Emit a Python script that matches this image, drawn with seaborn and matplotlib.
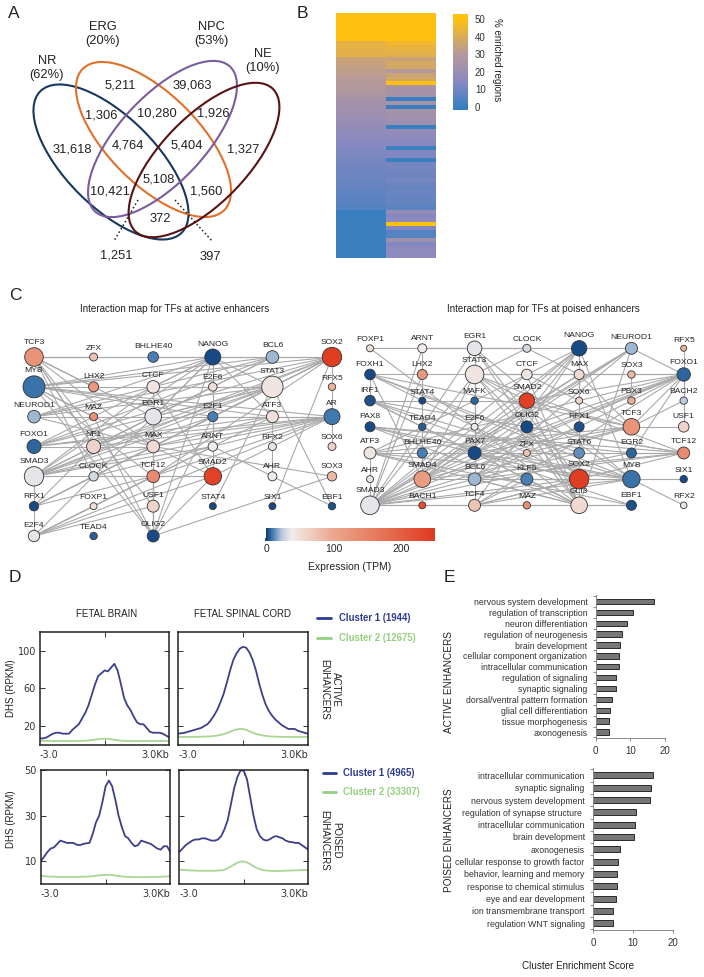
import matplotlib
matplotlib.use("Agg")
import matplotlib.pyplot as plt
import numpy as np
import pandas as pd
import seaborn as sns
from matplotlib.cm import ScalarMappable
from matplotlib.colors import LinearSegmentedColormap, Normalize
from matplotlib.patches import Ellipse

# venn counts
venn_counts = ["5,211", "39,063", "1,306", "10,280", "1,926", "31,618", "4,764", "5,404",
               "1,327", "10,421", "5,108", "1,560", "372", "1,251", "397"]
venn_sets = ["NR\n(62%)", "ERG\n(20%)", "NPC\n(53%)", "NE\n(10%)"]

# % enriched regions, one value per row
enriched_left = [50, 50, 50, 50, 50, 50, 50, 43, 43, 42, 42, 36, 35, 34, 33, 32, 31, 30, 29, 28, 27,
                 25, 24, 23, 22, 21, 20, 19, 18, 17, 16, 15, 14, 13, 12.5, 12, 11, 10.5, 10, 9.5, 9,
                 8.5, 8, 7.5, 7, 6.5, 6, 5.5, 5, 0, 0, 0, 0, 0, 0, 0, 0, 0, 0, 0, 0]
enriched_right = [50, 50, 50, 50, 50, 50, 50, 46, 44, 43, 42, 35, 39, 38, 30, 36, 38, 52, 26, 24, 25,
                  0, 24, 0, 24, 23, 22, 21, 0, 18, 17, 15, 14, 0, 13, 13, 0, 11, 11, 10, 10,
                  11, 9, 8, 9, 8, 8, 7, 6, 18, 14, 15, 52, 13, 5, 5, 22, 13, 15, 16, 16]

# TF networks, listed column by column
active_names = [["TCF3", "MYB", "NEUROD1", "FOXO1", "SMAD3", "RFX1", "E2F4"],
                ["ZFX", "LHX2", "MAZ", "NF1", "CLOCK", "FOXP1", "TEAD4"],
                ["BHLHE40", "CTCF", "EGR1", "MAX", "TCF12", "USF1", "OLIG2"],
                ["NANOG", "E2F6", "E2F1", "ARNT", "SMAD2", "STAT4"],
                ["BCL6", "STAT3", "ATF3", "RFX2", "AHR", "SIX1"],
                ["SOX2", "RFX5", "AR", "SOX6", "SOX3", "EBF1"]]
active_tpm = [[125, 8, 20, 6, 35, 2, 35],
              [75, 120, 130, 60, 30, 50, 5],
              [10, 45, 35, 55, 140, 60, 2],
              [2, 50, 10, 40, 240, 2],
              [20, 45, 50, 35, 40, 2],
              [245, 90, 9, 60, 85, 3]]
active_weight = [[9.3, 11, 6.3, 7, 9.7, 4.7, 5.7],
                 [4, 5, 4, 7, 4.7, 3.5, 3.7],
                 [5.3, 6.3, 8.3, 6.3, 6.3, 6, 6],
                 [8, 4.3, 5, 4.7, 8.7, 3.5],
                 [6.3, 10.7, 6, 4, 4.5, 3.5],
                 [9.7, 3.7, 8, 4, 4.7, 3.7]]
active_edges = """TCF3-SOX2 TCF3-NANOG TCF3-CLOCK TCF3-MAX TCF3-EGR1 TCF3-USF1 TCF3-OLIG2 TCF3-NF1 TCF3-LHX2
MYB-STAT3 MYB-SOX2 MYB-NANOG MYB-BCL6 MYB-AR MYB-ATF3 MYB-E2F1 MYB-SMAD2 MYB-OLIG2 MYB-MAZ MYB-TCF12
NEUROD1-NANOG NEUROD1-STAT3 NEUROD1-BCL6 NEUROD1-SOX2 NEUROD1-AR NEUROD1-MAX
FOXO1-SOX2 FOXO1-STAT3 FOXO1-AR FOXO1-MAX FOXO1-BCL6 FOXO1-NANOG FOXO1-ATF3
SMAD3-SMAD2 SMAD3-SOX2 SMAD3-STAT3 SMAD3-AR SMAD3-ATF3 SMAD3-E2F1 SMAD3-BCL6 SMAD3-NANOG SMAD3-CTCF SMAD3-ARNT SMAD3-E2F6
RFX1-NF1 RFX1-MAX RFX1-STAT3 RFX1-SOX2 RFX1-E2F4 RFX1-SMAD3 RFX1-TCF12
E2F4-SMAD2 E2F4-ATF3 E2F4-AR E2F4-USF1 E2F4-TCF12 E2F4-NANOG E2F4-ARNT
OLIG2-SOX3 OLIG2-USF1 OLIG2-MAX OLIG2-EGR1 OLIG2-CTCF OLIG2-NANOG OLIG2-MAZ OLIG2-SMAD2 OLIG2-E2F1
NANOG-SMAD2 NANOG-E2F6 NANOG-CTCF NANOG-STAT3 NANOG-EGR1 NANOG-SOX2 NANOG-ATF3
STAT3-EBF1 SOX2-SIX1 STAT3-STAT4 SOX2-RFX5 RFX5-AR AR-SOX6 ATF3-RFX2 RFX2-AHR ARNT-EBF1 MAX-SOX3
CTCF-SMAD2 CTCF-STAT3 CTCF-USF1 NF1-STAT3 NF1-SOX2 NF1-AR NF1-BCL6 CLOCK-SMAD2 CLOCK-SOX2 CLOCK-AR
EGR1-STAT3 EGR1-AR MAX-AR MAX-SOX2 TCF12-AR TCF12-SOX2 E2F6-E2F1 E2F1-ARNT ARNT-SMAD2 SMAD2-AR ZFX-TCF3""".split()

poised_names = [["FOXP1", "FOXH1", "IRF1", "PAX8", "ATF3", "AHR", "SMAD3"],
                ["ARNT", "LHX2", "STAT4", "TEAD4", "BHLHE40", "SMAD4", "BACH1"],
                ["EGR1", "STAT3", "MAFK", "E2F6", "PAX7", "BCL6", "TCF4"],
                ["CLOCK", "CTCF", "SMAD2", "OLIG2", "ZFX", "KLF5", "MAZ"],
                ["NANOG", "MAX", "SOX6", "RFX1", "STAT6", "SOX2", "GLI3"],
                ["NEUROD1", "SOX3", "PBX3", "TCF3", "EGR2", "MYB", "EBF1"],
                ["RFX5", "FOXO1", "BACH2", "USF1", "TCF12", "SIX1", "RFX2"]]
poised_tpm = [[50, 2, 3, 2, 45, 35, 35],
              [40, 120, 2, 5, 10, 115, 220],
              [35, 45, 6, 40, 2, 20, 75],
              [30, 45, 240, 2, 75, 10, 130],
              [2, 55, 60, 3, 13, 245, 55],
              [20, 85, 95, 125, 6, 8, 3],
              [90, 6, 25, 60, 140, 2, 35]]
poised_weight = [[3.5, 5.3, 5.3, 5, 6, 3.5, 9.3],
                 [4.5, 5, 3.5, 3.7, 5, 8.3, 3.5],
                 [7.3, 9.3, 3.7, 3.5, 6.5, 6.3, 6],
                 [4, 5.3, 7.7, 6, 3.5, 6, 3.7],
                 [7.7, 5, 3.5, 5, 5.3, 9.7, 8.3],
                 [6, 3.7, 3.7, 8.3, 5, 8.7, 5],
                 [3, 6.7, 3.7, 5.3, 6, 3.7, 3.3]]
poised_edges = """SMAD3-SMAD2 SMAD3-NANOG SMAD3-TCF3 SMAD3-MYB SMAD3-SOX2 SMAD3-FOXO1 SMAD3-EGR2 SMAD3-MAZ SMAD3-EBF1 SMAD3-OLIG2
SMAD3-STAT3 SMAD3-EGR1 SMAD3-RFX1 SMAD3-STAT6 SMAD3-NEUROD1 SMAD3-ARNT SMAD3-AHR SMAD3-MAX SMAD3-LHX2 SMAD3-CTCF
FOXP1-NANOG FOXP1-GLI3 FOXH1-FOXO1 FOXH1-SOX2 FOXH1-MYB FOXH1-TCF3 FOXH1-STAT6 FOXH1-IRF1 FOXH1-SMAD4
IRF1-SOX2 IRF1-GLI3 IRF1-MYB IRF1-TCF12 IRF1-SMAD2 IRF1-PAX7 PAX8-MYB PAX8-TCF12 PAX8-GLI3 PAX8-SOX2 PAX8-EGR2
ATF3-TCF12 ATF3-MYB ATF3-FOXO1 ATF3-NANOG ATF3-AHR ATF3-TCF3 ATF3-GLI3 ATF3-EBF1
SMAD4-FOXO1 SMAD4-NANOG SMAD4-TCF3 SMAD4-SOX2 SMAD4-NEUROD1 SMAD4-MAX SMAD4-ARNT SMAD4-STAT3 SMAD4-TCF12
PAX7-FOXO1 PAX7-TCF12 PAX7-MYB PAX7-SOX2 PAX7-GLI3 PAX7-NANOG PAX7-TCF3 PAX7-NEUROD1 PAX7-STAT3 PAX7-EBF1
STAT3-TCF12 STAT3-SOX2 STAT3-MYB STAT3-FOXO1 STAT3-GLI3 STAT3-CLOCK STAT3-EGR1 STAT3-CTCF STAT3-SMAD2 STAT3-TCF4
EGR1-MYB EGR1-GLI3 EGR1-NEUROD1 EGR1-FOXP1 EGR1-ARNT EGR1-CLOCK EGR1-SOX2 EGR1-PAX7
NANOG-NEUROD1 NANOG-GLI3 NANOG-SOX2 NANOG-TCF4 NANOG-BCL6 NANOG-MYB NEUROD1-GLI3 NEUROD1-FOXO1 NEUROD1-BCL6
RFX5-USF1 MYB-RFX2 MYB-SIX1 BCL6-TCF12 BCL6-FOXO1 BCL6-MYB BCL6-GLI3 TCF4-FOXO1 TCF4-SOX2 TCF4-MYB TCF4-TCF12 TCF4-MAZ
GLI3-EBF1 MAZ-GLI3 KLF5-MYB KLF5-GLI3 KLF5-TCF4 SMAD2-TCF3 SMAD2-GLI3 SMAD2-FOXO1 OLIG2-TCF12 OLIG2-GLI3 OLIG2-FOXO1
CTCF-MAX CTCF-TCF3 CTCF-GLI3 CLOCK-MAX MAX-TCF3 MAX-GLI3 TCF3-FOXO1 TCF3-USF1 TCF3-BACH2 USF1-FOXO1 EGR2-FOXO1 SOX3-PBX3""".split()

# DHS profiles, 41 positions from -3 to 3 kb
kb = np.linspace(-3, 3, 41)
brain_active_c1 = [7, 7, 8, 10, 12, 13, 13, 12, 12, 12, 16, 19, 22, 28, 34, 42, 53, 64, 73, 76, 79, 78, 82, 86, 79,
                   65, 50, 42, 37, 30, 24, 22, 22, 18, 14, 13, 13, 13, 12, 10, 8]
brain_active_c2 = [4.5, 4.4, 4.3, 4.3, 4.2, 4.2, 4.2, 4.2, 4.2, 4.3, 4.3, 4.3, 4.3, 4.4, 4.5, 4.7, 5.2, 5.6, 6, 6.4,
                   6.6, 6.5, 6.1, 5.6, 5, 4.6, 4.4, 4.3, 4.2, 4.2, 4.2, 4.2, 4.2, 4.2, 4.2, 4.2, 4.2, 4.2, 4.3, 4.3, 4.3]
cord_active_c1 = [12, 12.5, 13, 14, 15, 16, 17, 18, 20, 22, 26, 31, 37, 45, 54, 66, 79, 90, 97, 102, 104, 103, 98, 90,
                  79, 65, 53, 43, 36, 31, 27, 24, 21, 19, 17, 17, 17, 15, 14, 13, 12]
cord_active_c2 = [8.5, 8.5, 8.5, 8.6, 8.6, 8.7, 8.7, 8.8, 8.9, 9, 9.2, 9.5, 10, 10.6, 11.5, 12.5, 14, 15.5, 16.5, 17,
                  17, 16, 14.5, 13, 11.8, 11, 10.2, 9.6, 9.2, 9, 8.8, 8.7, 8.6, 8.5, 8.5, 8.5, 8.5, 8.5, 8.5, 8.5, 8.5]
brain_poised_c1 = [10, 12, 14, 15.5, 16, 17.5, 19, 18.5, 18, 18, 18, 17.2, 17, 17.5, 17.8, 18, 22, 27, 30, 36, 43, 45.5,
                   43, 37, 30, 25, 21, 20, 18, 16.5, 17, 19, 18.5, 18, 17.5, 16.5, 15.5, 15, 16.5, 16.5, 14]
brain_poised_c2 = [3.6, 3.3, 3.2, 3.1, 3.1, 3, 3, 3, 3, 3, 3, 3, 3, 3.1, 3.1, 3.2, 3.3, 3.5, 3.7, 3.8, 3.9, 3.9, 3.8, 3.6,
                   3.4, 3.2, 3.1, 3, 3, 2.9, 2.9, 2.9, 2.9, 2.9, 3, 3, 3, 3.1, 3.1, 3.2, 3.3]
cord_poised_c1 = [14, 15.5, 17, 18, 19, 19.5, 19.5, 20, 20, 19.5, 19, 19, 19.5, 21, 24, 28, 35, 42, 47, 50, 49.8, 46, 38,
                  30, 24, 21, 19.5, 19, 19.5, 20.5, 21, 20.5, 20, 19, 18.5, 18.3, 18, 18, 17, 16, 15]
cord_poised_c2 = [6.2, 6.1, 6, 5.9, 5.8, 5.8, 5.7, 5.7, 5.7, 5.7, 5.7, 5.7, 5.8, 5.9, 6.2, 6.8, 7.6, 8.4, 9.2, 9.7, 9.8,
                  9.4, 8.6, 7.7, 7, 6.4, 6, 5.8, 5.7, 5.6, 5.6, 5.6, 5.7, 5.7, 5.8, 5.8, 5.9, 5.9, 6, 6, 6.1]

# GO enrichment
active_terms = ["nervous system development", "regulation of transcription", "neuron differentiation",
                "regulation of neurogenesis", "brain development", "cellular component organization",
                "intracellular communication", "regulation of signaling", "synaptic signaling",
                "dorsal/ventral pattern formation", "glial cell differentiation", "tissue morphogenesis",
                "axonogenesis"]
active_scores = [16.7, 10.8, 8.9, 7.6, 7.1, 6.6, 6.6, 6.0, 6.0, 4.6, 4.1, 3.9, 3.8]
poised_terms = ["intracellular communication", "synaptic signaling", "nervous system development",
                "regulation of synapse structure ", "intracellular communication", "brain development",
                "axonogenesis", "cellular response to growth factor", "behavior, learning and memory",
                "response to chemical stimulus", "eye and ear development", "ion transmembrane transport",
                "regulation WNT signaling"]
poised_scores = [15.0, 14.6, 14.4, 10.9, 10.6, 10.2, 6.7, 6.2, 5.9, 5.9, 5.7, 5.0, 5.0]

W, H = 704, 977
sns.set_theme(style="white")
plt.rcParams["font.family"] = ["Liberation Sans", "DejaVu Sans"]
plt.rcParams["text.color"] = "#222222"
fig = plt.figure(figsize=(W / 100, H / 100), dpi=100)


def px_axes(left, top, right, bottom):
    return fig.add_axes([left / W, 1 - bottom / H, (right - left) / W, (bottom - top) / H])


# overlay in pixel coordinates for the venn and loose labels
page = px_axes(0, 0, W, H)
page.set_xlim(0, W)
page.set_ylim(H, 0)
page.axis("off")

for letter, x, y in [("A", 14, 14), ("B", 302, 14), ("C", 15, 295), ("D", 15, 577), ("E", 449, 577)]:
    page.text(x, y, letter, fontsize=12.5, ha="center", va="center")

# A: venn
venn_shapes = [((111, 162), 200, 90, 45, "#17375e"), ((153.5, 139.5), 200, 90, 45, "#e0702a"),
               ((162.5, 139), 198, 86, -47, "#7a5c9e"), ((204, 160), 198, 86, -46, "#5a1214")]
for center, w, h, angle, color in venn_shapes:
    page.add_patch(Ellipse(center, w, h, angle=angle, fill=False, edgecolor=color, lw=1.5))
venn_xy = [(120, 86), (192, 86), (101, 116), (157, 113), (213, 113), (72, 150), (128, 145), (187, 145),
           (243, 150), (110, 191), (159, 179), (206, 191), (160, 219), (116, 256), (210, 257)]
for label, (x, y) in zip(venn_counts, venn_xy):
    page.text(x, y, label, fontsize=9.3, ha="center", va="center")
for label, (x, y) in zip(venn_sets, [(47, 68), (103, 34), (211, 34), (263, 61)]):
    page.text(x, y, label, fontsize=9.3, ha="center", va="center", linespacing=1.3)
page.plot([138, 114], [200, 241], ls=":", color="#222222", lw=1.1)
page.plot([175, 212], [200, 241], ls=":", color="#222222", lw=1.1)

# B: heatmap with its colour bar
enrich_cmap = LinearSegmentedColormap.from_list(
    "enrich", [(0, "#2f7fc1"), (0.3, "#8a88c0"), (0.6, "#b89a98"), (0.95, "#ffc010"), (1, "#ffc010")])
heat_ax = px_axes(336, 13, 436, 258)
bar_ax = px_axes(453, 14, 468, 110)
enrich_df = pd.DataFrame({"left": enriched_left, "right": enriched_right})
sns.heatmap(enrich_df, cmap=enrich_cmap, vmin=-2, vmax=53, xticklabels=False, yticklabels=False,
            ax=heat_ax, cbar_ax=bar_ax)
bar_ax.set_yticks([0, 10, 20, 30, 40, 50])
bar_ax.tick_params(axis="y", length=3, direction="in", color="white", labelsize=7, pad=5, labelcolor="#333333")
page.text(497, 60, "% enriched regions", rotation=-90, fontsize=7, ha="center", va="center")

# C: networks
tpm_cmap = LinearSegmentedColormap.from_list(
    "tpm", [(0, "#0b3d78"), (0.035, "#3f78b0"), (0.09, "#b8c8dc"), (0.15, "#f0ecec"), (0.4, "#eba78c"), (1, "#e03a1e")])
tpm_norm = Normalize(0, 250)


def draw_network(rect, names, tpm, weight, edges):
    ax = px_axes(*rect)
    rows = []
    for c, column in enumerate(names):
        for r, name in enumerate(column):
            rows.append({"name": name, "col": c, "row": r, "tpm": tpm[c][r], "weight": weight[c][r]})
    nodes = pd.DataFrame(rows)
    where = nodes.set_index("name")
    for edge in edges:
        a, b = edge.split("-")
        ax.plot([where.col[a], where.col[b]], [where.row[a], where.row[b]], color="#a9a9a9", lw=0.8,
                zorder=1, clip_on=False)
    areas = (2 * nodes.weight * 0.72) ** 2
    sns.scatterplot(data=nodes, x="col", y="row", hue="tpm", hue_norm=tpm_norm, palette=tpm_cmap, s=areas,
                    edgecolor="#333333", linewidth=0.6, legend=False, clip_on=False, zorder=3, ax=ax)
    for row in nodes.itertuples():
        ax.annotate(row.name, (row.col, row.row), xytext=(0, (row.weight + 5) * 0.72), textcoords="offset points",
                    ha="center", va="center", fontsize=6.1, color="#222222", zorder=4)
    ax.set_xlim(0, len(names) - 1)
    ax.set_ylim(6, 0)
    ax.axis("off")


draw_network((34, 357, 332, 536), active_names, active_tpm, active_weight, active_edges)
draw_network((370, 348.3, 683.7, 505.3), poised_names, poised_tpm, poised_weight, poised_edges)
page.text(175, 309, "Interaction map for TFs at active enhancers", fontsize=7.1, ha="center", va="center")
page.text(543, 309, "Interaction map for TFs at poised enhancers", fontsize=7.1, ha="center", va="center")

tpm_ax = px_axes(266, 527.5, 435, 540.5)
tpm_bar = fig.colorbar(ScalarMappable(tpm_norm, tpm_cmap), cax=tpm_ax, orientation="horizontal", ticks=[0, 100, 200])
tpm_bar.outline.set_visible(False)
tpm_ax.tick_params(axis="x", length=2, direction="in", labelsize=7.5, pad=2.5, color="#333333")
page.text(350, 567.5, "Expression (TPM)", fontsize=7.5, ha="center", va="center")

# D: DHS profiles
c1_color, c2_color = "#3c3f8c", "#a9d693"
profile_panels = [((40, 631.7, 169.3, 745), brain_active_c1, brain_active_c2, 120, [20, 60, 100], True),
                  ((178.3, 631.7, 307.7, 745), cord_active_c1, cord_active_c2, 120, [20, 60, 100], False),
                  ((41, 770.3, 170.3, 883.7), brain_poised_c1, brain_poised_c2, 50, [10, 30, 50], True),
                  ((179.3, 770.3, 308.3, 883.7), cord_poised_c1, cord_poised_c2, 50, [10, 30, 50], False)]
for rect, c1, c2, top, yticks, show_y in profile_panels:
    ax = px_axes(*rect)
    sns.lineplot(x=kb, y=c2, color=c2_color, lw=1.3, ax=ax)
    sns.lineplot(x=kb, y=c1, color=c1_color, lw=1.3, ax=ax)
    ax.set_xlim(-3, 3)
    ax.set_ylim(0, top)
    ax.set_xticks([0])
    ax.set_xticklabels([])
    ax.set_yticks(yticks)
    ax.tick_params(length=3.5, width=0.7, direction="in", top=True, bottom=True, left=True, right=True,
                   color="#333333", labelsize=7, labelcolor="#333333", pad=3)
    if show_y:
        ax.set_yticklabels([str(v) for v in yticks], family="DejaVu Sans")
    else:
        ax.set_yticklabels([])
    for side in ax.spines.values():
        side.set_visible(True)
        side.set_linewidth(1.1)
        side.set_color("#222222")
    ax.text(0, -0.09, "-3.0", transform=ax.transAxes, fontsize=7, family="DejaVu Sans", va="center", color="#333333")
    ax.text(1, -0.09, "3.0Kb", transform=ax.transAxes, fontsize=7, family="DejaVu Sans", ha="right", va="center",
            color="#333333")

page.text(107, 613.7, "FETAL BRAIN", fontsize=7, ha="center", va="center")
page.text(243, 613.7, "FETAL SPINAL CORD", fontsize=7, ha="center", va="center")
page.text(11, 688, "DHS (RPKM)", rotation=90, fontsize=7, ha="center", va="center")
page.text(11, 819, "DHS (RPKM)", rotation=90, fontsize=7, ha="center", va="center")
page.text(330, 689, "ACTIVE\nENHANCERS", rotation=-90, fontsize=7, ha="center", va="center", linespacing=1.2)
page.text(330, 840, "POISED\nENHANCERS", rotation=-90, fontsize=7, ha="center", va="center", linespacing=1.2)
legend_rows = [(317, 331, 339, 618, "Cluster 1 (1944)", "#2d3a96"), (317, 331, 339, 638, "Cluster 2 (12675)", "#93d07e"),
               (323, 336, 343, 773, "Cluster 1 (4965)", "#2d3a96"), (323, 336, 343, 792, "Cluster 2 (33307)", "#93d07e")]
for x0, x1, xt, y, label, color in legend_rows:
    page.plot([x0, x1], [y, y], color=color, lw=2)
    page.text(xt, y, label, color=color, fontsize=6.9, fontweight="bold", va="center")

# E: enrichment bars
bar_panels = [((595.7, 595, 665, 738), active_terms, active_scores),
              ((593, 768, 672.7, 930), poised_terms, poised_scores)]
for rect, terms, scores in bar_panels:
    ax = px_axes(*rect)
    # terms repeat in the poised list, so bars are placed by rank
    sns.barplot(x=scores, y=list(range(len(terms))), orient="h", color="#767676", saturation=1, width=0.5,
                edgecolor="#2a2a2a", linewidth=0.7, ax=ax)
    ax.set_xlim(0, 20)
    ax.set_ylim(len(terms) - 0.45, -0.6)
    ax.set_xticks([0, 10, 20])
    ax.set_yticks(range(len(terms)))
    ax.set_yticklabels(terms)
    ax.set_yticks(np.arange(len(terms) + 1) - 0.5, minor=True)
    ax.tick_params(axis="y", which="major", length=0, labelsize=6.3, pad=6, labelcolor="#333333")
    ax.tick_params(axis="y", which="minor", length=2.5, width=0.6, color="#777777", left=True)
    ax.tick_params(axis="x", length=2.5, width=0.6, color="#777777", bottom=True, labelsize=7, labelcolor="#333333", pad=3)
    ax.set_facecolor("none")
    sns.despine(ax=ax)
    for side in ("left", "bottom"):
        ax.spines[side].set_color("#888888")
        ax.spines[side].set_linewidth(0.7)

page.text(449, 682, "ACTIVE ENHANCERS", rotation=90, fontsize=7.2, ha="center", va="center")
page.text(449, 840, "POISED ENHANCERS", rotation=90, fontsize=7.2, ha="center", va="center")
page.text(578, 966, "Cluster Enrichment Score", fontsize=7.1, ha="center", va="center")

fig.savefig("out.png", dpi=100)
